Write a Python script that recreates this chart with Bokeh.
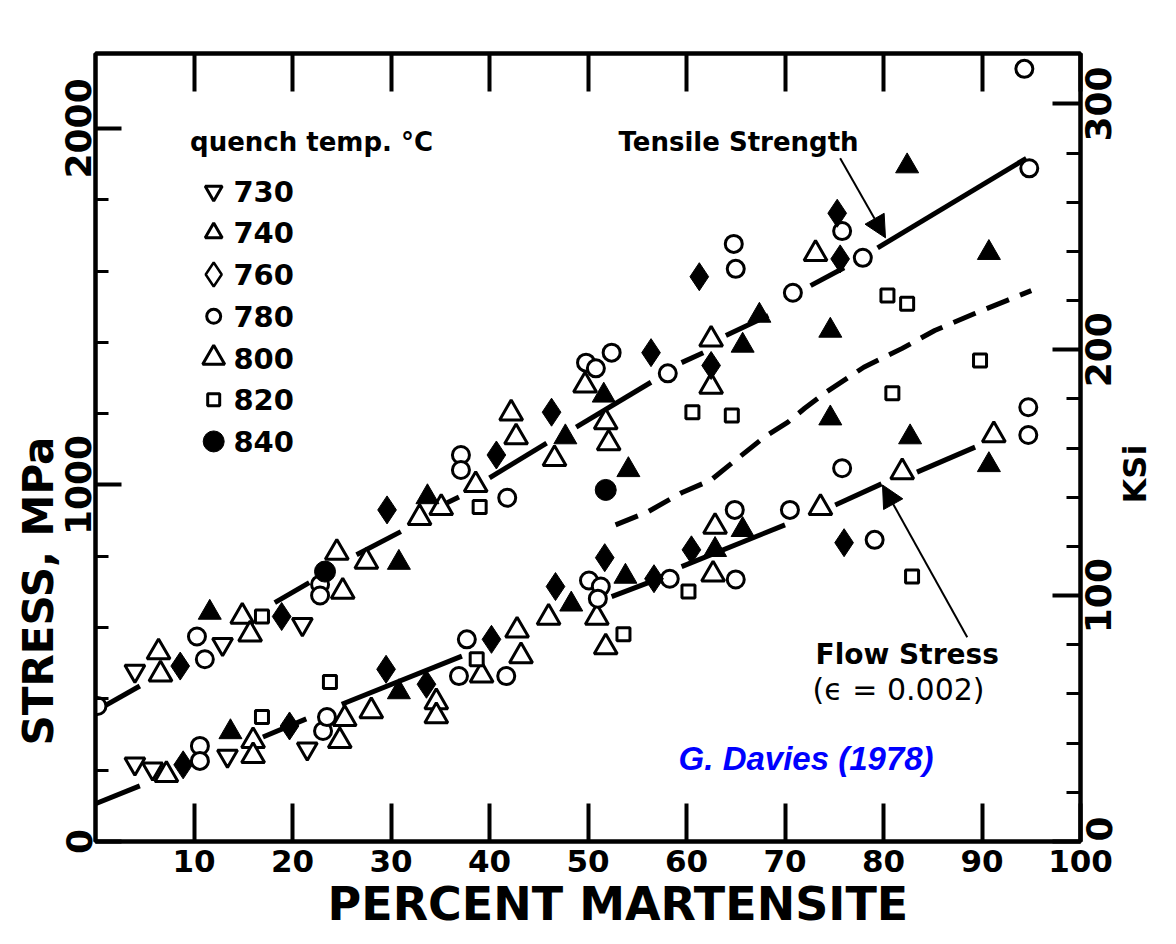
import math
from bokeh.plotting import figure
from bokeh.models import (Range1d, LinearAxis, FixedTicker, Label, Arrow, NormalHead,
                          ColumnDataSource, Title)
from bokeh.core.properties import value
from bokeh.embed import file_html
from bokeh.resources import INLINE

# ---------------- data ----------------
x_ticks = [10, 20, 30, 40, 50, 60, 70, 80, 90, 100]
y_major = [0, 1000, 2000]
y_minor = [200, 400, 600, 800, 1200, 1400, 1600, 1800]
ksi_major = [0, 100, 200, 300]
ksi_minor = [20, 40, 60, 80, 120, 140, 160, 180, 220, 240, 260, 280]

quench_temps = ["730", "740", "760", "780", "800", "820", "840"]

# 730 C (open inverted triangle)
pct_730 = [4.0, 12.9, 21.0, 4.0, 5.8, 13.4, 21.5]
mpa_730 = [478, 553, 609, 218, 204, 240, 260]

# 740 C (filled triangle)
pct_740 = [11.6, 30.8, 33.7, 47.7, 51.6, 54.1, 65.7, 67.4, 74.6, 82.4, 90.7, 74.6, 82.7, 90.7,
           13.7, 30.8, 48.3, 53.8, 65.7, 62.9]
mpa_740 = [642, 782, 966, 1134, 1251, 1042, 1391, 1475, 1433, 1894, 1651, 1187, 1134, 1056,
           307, 419, 665, 743, 874, 818]

# 760 C (filled diamond)
pct_760 = [8.6, 18.9, 29.6, 40.7, 46.3, 56.4, 62.5, 61.3, 75.3, 75.6,
           8.9, 19.7, 29.5, 33.6, 40.2, 46.7, 51.7, 56.7, 60.5, 76.0]
mpa_760 = [492, 631, 930, 1084, 1204, 1371, 1335, 1584, 1762, 1634,
           215, 324, 483, 441, 567, 715, 796, 737, 818, 838]

# 780 C (open circle)
pct_780 = [0.2, 10.3, 11.1, 22.8, 22.8, 37.1, 37.1, 41.8, 49.8, 50.8, 52.4, 58.1, 64.8, 65.0,
           70.8, 75.8, 77.9, 94.3, 94.8,
           10.6, 10.6, 23.1, 23.5, 37.7, 36.9, 41.7, 50.1, 51.3, 51.0, 58.3, 64.9, 65.0, 70.5,
           75.8, 79.1, 94.7, 94.7]
mpa_780 = [380, 575, 511, 721, 690, 1084, 1042, 964, 1343, 1327, 1371, 1313, 1676, 1606,
           1539, 1712, 1637, 2167, 1888,
           268, 226, 310, 349, 567, 464, 464, 732, 715, 681, 737, 930, 735, 930,
           1047, 846, 1218, 1140]

# 800 C (open triangle)
pct_800 = [6.4, 6.6, 14.9, 15.7, 24.5, 25.1, 27.5, 32.9, 35.1, 38.6, 42.2, 42.7, 46.6, 49.7,
           51.8, 52.1, 62.5, 62.5, 73.1,
           7.2, 16.0, 16.0, 24.8, 25.3, 28.0, 34.6, 34.6, 39.2, 42.8, 43.2, 46.0, 50.9, 51.8,
           62.9, 62.7, 73.6, 81.9, 91.2]
mpa_800 = [531, 469, 631, 581, 810, 701, 785, 908, 936, 1000, 1201, 1134, 1073, 1279,
           1176, 1117, 1408, 1276, 1648,
           187, 282, 240, 282, 344, 366, 391, 352, 466, 592, 520, 628, 628, 545,
           883, 749, 936, 1036, 1140]

# 820 C (open square)
pct_820 = [16.9, 39.0, 60.6, 64.6, 80.4, 82.4, 80.9, 89.8, 16.9, 23.8, 38.7, 53.6, 60.2, 82.9]
mpa_820 = [631, 938, 1204, 1195, 1531, 1508, 1257, 1349, 349, 447, 511, 581, 701, 743]

# 840 C (filled circle)
pct_840 = [23.3, 51.8]
mpa_840 = [757, 986]

# fitted lines (pieces between the points)
tensile_seg_x = [[0, 4.5], [18.2, 21.7], [26.5, 31.0], [35.7, 36.9], [40.0, 45.8],
                 [48.8, 56.4], [59.5, 61.7], [64.0, 68.3], [72.6, 76.0], [79.4, 94.5]]
tensile_seg_y = [[366, 436], [670, 726], [804, 869], [950, 966], [1020, 1117],
                 [1162, 1288], [1343, 1371], [1419, 1475], [1559, 1609], [1665, 1916]]

flow_seg_x = [[0, 4.5], [17.0, 21.4], [25.0, 37.2], [52.4, 56.4], [59.5, 70.0],
              [75.1, 79.8], [83.4, 89.3]]
flow_seg_y = [[106, 156], [293, 344], [385, 520], [687, 729], [771, 888],
              [944, 1003], [1036, 1106]]

mid_x = [52.8, 56.1, 59.5, 62.5, 65.0, 67.9, 70.3, 72.0, 74.0, 78.0, 81.9, 85.2, 89.2, 92.5, 95.0]
mid_y = [888, 925, 978, 1014, 1070, 1134, 1176, 1215, 1257, 1330, 1383, 1433, 1480, 1517, 1545]

# ---------------- figure ----------------
FONT = "DejaVu Sans"
KSI_TOP = 320.5
p = figure(width=1176, height=944, x_range=Range1d(0, 100), y_range=Range1d(0, 2210),
           output_backend="svg", toolbar_location=None)
p.min_border_left = 95
p.min_border_right = 92
p.min_border_top = 53
p.min_border_bottom = 103
p.xgrid.visible = False
p.ygrid.visible = False
p.background_fill_color = "white"
p.border_fill_color = "white"
p.outline_line_color = "black"
p.outline_line_width = 4

p.extra_y_ranges = {"ksi": Range1d(0, KSI_TOP)}

# bottom axis
xa = p.xaxis[0]
xa.ticker = FixedTicker(ticks=x_ticks)
xa.major_tick_in = 38
xa.major_tick_out = 0
xa.minor_tick_line_color = None
xa.major_tick_line_width = 4
xa.axis_line_width = 4
xa.major_label_text_font = FONT
xa.major_label_text_font_size = "31px"
xa.major_label_text_font_style = "bold"
xa.major_label_text_color = "black"
xa.major_label_standoff = 8

p.add_layout(Title(text="PERCENT MARTENSITE", align="left", offset=232, standoff=0,
                   text_font=FONT, text_font_size="46px", text_font_style="bold",
                   text_color="black"), "below")

# left axis
ya = p.yaxis[0]
ya.ticker = FixedTicker(ticks=y_major, minor_ticks=y_minor)
ya.major_tick_in = 26
ya.major_tick_out = 0
ya.minor_tick_in = 13
ya.minor_tick_out = 0
ya.major_tick_line_width = 4
ya.minor_tick_line_width = 3
ya.axis_line_width = 4
ya.major_label_orientation = "vertical"
ya.major_label_text_font = FONT
ya.major_label_text_font_size = "36px"
ya.major_label_text_font_style = "bold"
ya.major_label_text_color = "black"
ya.major_label_standoff = 4

p.add_layout(Title(text="STRESS, MPa", align="left", offset=96, standoff=0,
                   text_font=FONT, text_font_size="42px", text_font_style="bold",
                   text_color="black"), "left")

# top axis (ticks only)
ta = LinearAxis(ticker=FixedTicker(ticks=x_ticks))
ta.major_tick_in = 38
ta.major_tick_out = 0
ta.minor_tick_line_color = None
ta.major_tick_line_width = 4
ta.axis_line_width = 4
ta.major_label_text_font_size = "1px"
ta.major_label_text_alpha = 0
ta.major_label_standoff = 0
p.add_layout(ta, "above")

# right axis (ksi): tick marks
ra = LinearAxis(y_range_name="ksi", ticker=FixedTicker(ticks=ksi_major, minor_ticks=ksi_minor))
ra.major_tick_in = 28
ra.major_tick_out = 0
ra.minor_tick_in = 14
ra.minor_tick_out = 0
ra.major_tick_line_width = 4
ra.minor_tick_line_width = 3
ra.axis_line_width = 4
ra.major_label_text_font_size = "1px"
ra.major_label_text_alpha = 0
ra.major_label_standoff = 0
p.add_layout(ra, "right")


def label_axis(ticks, texts, size, standoff):
    ax = LinearAxis(y_range_name="ksi", ticker=FixedTicker(ticks=ticks))
    ax.major_label_overrides = {t: s for t, s in zip(ticks, texts)}
    ax.axis_line_color = None
    ax.major_tick_line_color = None
    ax.minor_tick_line_color = None
    ax.major_label_orientation = math.pi / 2      # reads bottom-to-top, starts at tick
    ax.major_label_text_font = FONT
    ax.major_label_text_font_size = size
    ax.major_label_text_font_style = "bold"
    ax.major_label_text_color = "black"
    ax.major_label_standoff = standoff
    return ax


# rotated ksi tick labels, shifted so each label is centred on its tick
LABEL_PX = 36
px_per_ksi = 788.0 / KSI_TOP
half_char_ksi = 0.696 * LABEL_PX / 2 / px_per_ksi
ksi_texts = [str(v) for v in ksi_major]
ksi_label_pos = [max(v - len(s) * half_char_ksi, 0) for v, s in zip(ksi_major, ksi_texts)]
p.add_layout(label_axis(ksi_label_pos, ksi_texts, f"{LABEL_PX}px", 12), "right")

# axis title "KSi" (rotated like the original, starting just below mid-height)
p.add_layout(label_axis([137.5], ["KSi"], "32px", 2), "right")

# ---------------- lines ----------------
p.multi_line(xs=tensile_seg_x, ys=tensile_seg_y, line_color="black", line_width=5)
p.multi_line(xs=flow_seg_x, ys=flow_seg_y, line_color="black", line_width=5)
p.line(mid_x, mid_y, line_color="black", line_width=5, line_dash="24 12")

# ---------------- points ----------------
p.scatter(pct_730, mpa_730, marker="inverted_triangle", size=20, line_color="black",
          line_width=3, fill_color="white")
p.scatter(pct_800, mpa_800, marker="triangle", size=23, line_color="black",
          line_width=3, fill_color="white")
p.scatter(pct_780, mpa_780, marker="circle", size=17, line_color="black",
          line_width=3, fill_color="white")
p.scatter(pct_820, mpa_820, marker="square", size=13, line_color="black",
          line_width=3, fill_color="white")
p.scatter(pct_740, mpa_740, marker="triangle", size=23, line_color="black",
          line_width=1, fill_color="black")
p.scatter(pct_760, mpa_760, marker="diamond", size=28, line_color="black",
          line_width=1, fill_color="black")
p.scatter(pct_840, mpa_840, marker="circle", size=21, line_color="black",
          line_width=1, fill_color="black")

# ---------------- legend (hand drawn, as in the original) ----------------
leg_y = [1824 - 117 * i for i in range(len(quench_temps))]
leg_x = [12.0] * len(quench_temps)
leg_markers = ["inverted_triangle", "triangle", "diamond", "circle", "triangle", "square", "circle"]
leg_sizes = [17, 17, 24, 14, 22, 12, 21]
leg_fill = ["white", "white", "white", "white", "white", "white", "black"]
leg_lw = [3, 3, 2.5, 3, 3, 3, 1]
leg_src = ColumnDataSource(dict(x=leg_x, y=leg_y, m=leg_markers, s=leg_sizes, f=leg_fill,
                                lw=leg_lw, t=quench_temps, tx=[14.0] * len(quench_temps)))
p.scatter(x="x", y="y", marker="m", size="s", fill_color="f", line_width="lw",
          line_color="black", source=leg_src)
p.text(x="tx", y="y", text="t", source=leg_src, text_font=value(FONT),
       text_font_size="29px", text_font_style="bold", text_baseline="middle",
       text_align="left", text_color="black")

p.add_layout(Label(x=9.6, y=1963, text="quench temp. °C", text_font=FONT,
                   text_font_size="26px", text_font_style="bold", text_baseline="middle",
                   text_color="black"))

# ---------------- annotations ----------------
p.add_layout(Label(x=53.1, y=1963, text="Tensile Strength", text_font=FONT,
                   text_font_size="26px", text_font_style="bold", text_baseline="middle",
                   text_color="black"))
p.add_layout(Arrow(x_start=75.6, y_start=1916, x_end=80.2, y_end=1693, line_width=2,
                   line_color="black",
                   end=NormalHead(size=22, fill_color="black", line_color="black")))

p.add_layout(Label(x=73.1, y=525, text="Flow  Stress", text_font=FONT,
                   text_font_size="28px", text_font_style="bold", text_baseline="middle",
                   text_color="black"))
p.add_layout(Label(x=72.8, y=427, text="(ϵ = 0.002)", text_font=FONT,
                   text_font_size="30px", text_baseline="middle", text_color="black"))
p.add_layout(Arrow(x_start=88.5, y_start=573, x_end=79.9, y_end=1000, line_width=2,
                   line_color="black",
                   end=NormalHead(size=22, fill_color="black", line_color="black")))

p.add_layout(Label(x=59.2, y=232, text="G. Davies (1978)", text_font="Liberation Sans",
                   text_font_size="33px", text_font_style="bold italic", text_baseline="middle",
                   text_color="#0000ff"))

open("out.html", "w").write(file_html(p, INLINE))
